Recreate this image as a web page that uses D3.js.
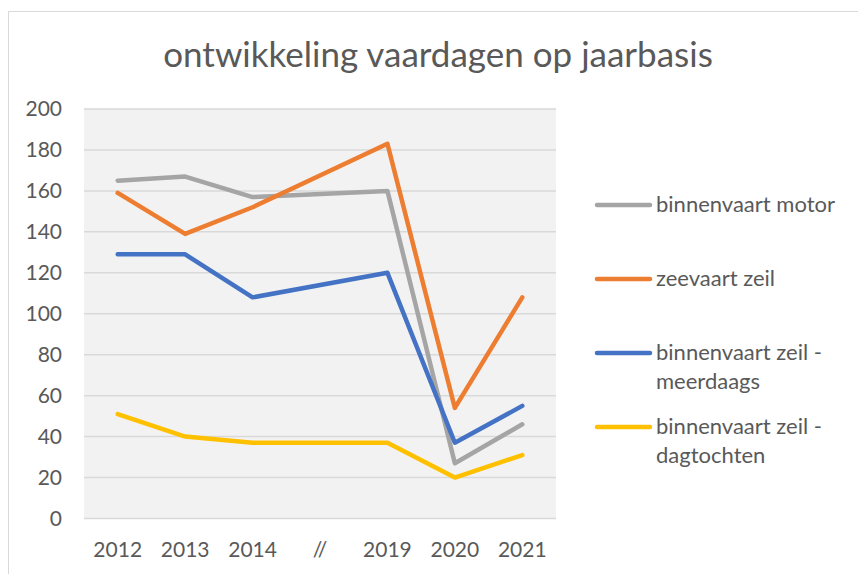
<!DOCTYPE html>
<html><head><meta charset="utf-8">
<script src="https://cdn.jsdelivr.net/npm/d3@7"></script>
<style>body{margin:0;background:#fff}svg{display:block}text{font-family:Lato,"Open Sans",sans-serif;fill:#595959}</style>
</head><body><svg id="c" width="858" height="574"></svg>
<script>
const categories = ["2012","2013","2014","//","2019","2020","2021"];
const seriesNames = ["binnenvaart motor","zeevaart zeil","binnenvaart zeil - meerdaags","binnenvaart zeil - dagtochten"];
const motor = [165,167,157,null,160,27,46];
const zeevaart = [159,139,152,null,183,54,108];
const meerdaags = [129,129,108,null,120,37,55];
const dagtochten = [51,40,37,null,37,20,31];
const yTicks = [0,20,40,60,80,100,120,140,160,180,200];
const colors = ["#a5a5a5","#ed7d31","#4472c4","#ffc000"];
const legendLines = [["binnenvaart motor"],["zeevaart zeil"],["binnenvaart zeil -","meerdaags"],["binnenvaart zeil -","dagtochten"]];

const svg = d3.select("#c");
svg.append("rect").attr("x",8.5).attr("y",11.5).attr("width",900).attr("height",600).attr("fill","#fff").attr("stroke","#d9d9d9").attr("stroke-width",1);

const L=84,R=556,T=109,B=518.5;
const x = d3.scaleBand().domain(categories).range([L,R]);
const y = d3.scaleLinear().domain([0,200]).range([B,T]);

svg.append("rect").attr("x",L).attr("y",T).attr("width",R-L).attr("height",B-T).attr("fill","#f2f2f2");
svg.append("g").selectAll("line").data(yTicks).join("line")
  .attr("x1",L).attr("x2",R).attr("y1",d=>y(d)).attr("y2",d=>y(d))
  .attr("stroke","#d9d9d9").attr("stroke-width",1.5);

svg.append("text").attr("x",438).attr("y",67).attr("text-anchor","middle").style("font-size","35px").text("ontwikkeling vaardagen op jaarbasis");

const yAxis = d3.axisLeft(y).tickValues(yTicks).tickSize(0).tickPadding(22);
const ga = svg.append("g").attr("transform",`translate(${L},0)`).call(yAxis);
ga.select(".domain").remove();
ga.selectAll("text").style("font-size","21px").attr("fill","#595959").style("font-family","Lato");

const xAxis = d3.axisBottom(x).tickSize(0).tickPadding(24);
const gx = svg.append("g").attr("transform",`translate(0,${B})`).call(xAxis);
gx.select(".domain").remove();
gx.selectAll("text").style("font-size","21px").attr("fill","#595959").style("font-family","Lato");

const data = [motor,zeevaart,meerdaags,dagtochten];
const line = d3.line().x((d,i)=>x(categories[d.i])+x.bandwidth()/2).y(d=>y(d.v));
data.forEach((s,k)=>{
  const pts = s.map((v,i)=>({v,i})).filter(d=>d.v!==null);
  svg.append("path").attr("d",line(pts)).attr("fill","none").attr("stroke",colors[k])
    .attr("stroke-width",4.5).attr("stroke-linecap","round").attr("stroke-linejoin","round");
});

const legY = [205,279,353,427];
const lg = svg.append("g");
legendLines.forEach((lines,k)=>{
  lg.append("line").attr("x1",597).attr("x2",650).attr("y1",legY[k]).attr("y2",legY[k])
    .attr("stroke",colors[k]).attr("stroke-width",4.5).attr("stroke-linecap","round");
  const t = lg.append("text").attr("x",656).attr("y",legY[k]+7).style("font-size","22px");
  lines.forEach((ln,j)=>t.append("tspan").attr("x",656).attr("dy",j?29:0).text(ln));
});
</script></body></html>
